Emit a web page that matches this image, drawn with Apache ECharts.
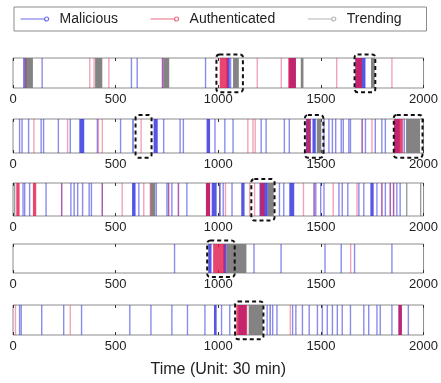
<!DOCTYPE html>
<html>
<head>
<meta charset="utf-8">
<script src="https://cdn.jsdelivr.net/npm/echarts@6/dist/echarts.min.js"></script>
<style>
  html, body { margin: 0; padding: 0; background: #fff; }
  #chart { width: 441px; height: 383px; }
</style>
</head>
<body>
<div id="chart"></div>
<script>
// event times (unit: 30 min); a number is a single event, a pair is a dense run
const malicious = [
  [52, [55, 58], 142, 577, 605, [725, 733], 938, [1040, 1056], 1060, [1345, 1378], [1668, 1700], [1700, 1717]],
  [32, 44, 76, 137, 149, 221, 279, [323, 347], 411, 524, [580, 589], [685, 705], 734, 814, 830, [943, 960], 984,
    1032, 1072, 1209, 1233, 1322, 1346, [1427, 1451], [1459, 1475], 1515, 1539, 1556, 1572, 1599, 1609, 1636, 1644,
    1701, 1717, 1765, 1797, 1814, [1857, 1884], [1902, 1910]],
  [49, 57, 81, 161, 237, 282, 298, 315, 339, 371, 382, 435, [580, 597], 613, 698, 750, 758, 774, 806, 847,
    [940, 960], [968, 992], 1008, 1024, 1067, [1112, 1128], [1201, 1241], 1298, 1319, [1346, 1370], 1467, 1475,
    1499, 1515, 1588, 1604, 1631, 1685, 1709, [1741, 1757], 1773, 1797, 1814, 1838, 1854, 1870, 1886],
  [787, [951, 967], [1025, 1040], 1174, 1306, 1520, 1599, 1664, 1846],
  [32, 40, 140, 247, 334, 569, 672, 774, 850, 935, [979, 992], 1016, 1056, [1098, 1136], 1238, [1249, 1257], 1265,
    1286, 1362, 1378, 1410, 1443, 1483, 1507, 1531, 1556, 1580, 1604, 1644, 1709, 1733, 1773, 1789, 1846,
    [1878, 1894], 1926]
]
const authenticated = [
  [[60, 66], 374, 395, 467, [725, 733], [1007, 1048], 1190, 1307, [1341, 1378], 1577, [1668, 1700], 1846],
  [102, 266, 416, 435, 624, 1144, 1169, 1180, [1430, 1448], 1701, 1749, [1857, 1899]],
  [[16, 32], [97, 113], 237, 435, 532, 637, 669, 758, 806, [940, 960], 1035, 1153, 1177, [1205, 1225], 1415, 1467,
    1560, 1676, 1797, 1838, 1854],
  [[975, 1032], 1645],
  [12, 279, [1088, 1141], 1351, [1878, 1894]]
]
const trending = [
  [[58, 97], [400, 435], [733, 761], [1072, 1100], [1402, 1415], [1744, 1762]],
  [[1480, 1502], [1915, 1983]],
  [8, [669, 693], 1007, [1241, 1270], 1918, 1986],
  [[1040, 1137]],
  [[1148, 1217]]
]
// highlighted windows (dashed boxes)
const highlights = [
  [[991, 1120], [1664, 1765]],
  [[597, 675], [1422, 1512], [1855, 1995]],
  [[1161, 1274]],
  [[946, 1080]],
  [[1082, 1220]]
]
const xTicks = { min: 0, max: 2000, interval: 500 }

const layout = [
  { top: 58, height: 30 },
  { top: 119, height: 34 },
  { top: 183, height: 33 },
  { top: 244, height: 29 },
  { top: 305, height: 30 }
]
const font = 'Liberation Sans, Arial, sans-serif'
const colors = { Malicious: '#2c2ce0', Authenticated: '#e0184c', Trending: '#7c7c7c' }
const legendIcon = 'path://M0,4 L24,4 M24,4 A2,2 0 1 1 28,4 A2,2 0 1 1 24,4'

const toSpan = (d) => (Array.isArray(d) ? d : [d, d])

const makeBars = (color, single, wide) => (params, api) => {
  const a = api.coord([api.value(0), 1])
  const b = api.coord([api.value(1), 0])
  const w = b[0] - a[0]
  const minW = 1.4
  const x = w < minW ? a[0] - (minW - w) / 2 : a[0]
  return {
    type: 'rect',
    shape: { x: x, y: a[1], width: Math.max(w, minW), height: b[1] - a[1] },
    style: { fill: color, opacity: w >= 2 ? wide : single }
  }
}

const renderBox = (params, api) => {
  const a = api.coord([api.value(0), 1.12])
  const b = api.coord([api.value(1), -0.14])
  return {
    type: 'rect',
    shape: { x: a[0], y: a[1], width: b[0] - a[0], height: b[1] - a[1], r: 3 },
    style: { fill: 'none', stroke: '#111', lineWidth: 2, lineDash: [4, 3] }
  }
}

const grids = []
const xAxes = []
const yAxes = []
const series = []
layout.forEach((g, i) => {
  grids.push({
    left: 13, right: 14, top: g.top, height: g.height,
    show: true, borderColor: '#8c8c8c', borderWidth: 1, backgroundColor: '#fff'
  })
  const base = {
    gridIndex: i, type: 'value', ...xTicks,
    axisLine: { show: false },
    axisTick: { inside: true, length: 3, lineStyle: { color: '#333' } },
    splitLine: { show: false }
  }
  xAxes.push({
    ...base, position: 'bottom',
    axisLabel: { fontSize: 13, color: '#222', margin: 5, fontFamily: font, formatter: (v) => String(v) },
    ...(i === layout.length - 1
      ? { name: 'Time (Unit: 30 min)', nameLocation: 'middle', nameGap: 27,
          nameTextStyle: { fontSize: 16, color: '#222', fontFamily: font } }
      : {})
  })
  xAxes.push({ ...base, position: 'top', axisLabel: { show: false } })
  yAxes.push({ gridIndex: i, type: 'value', min: 0, max: 1, show: false })

  const groups = [
    ['Trending', trending[i], 0.75, 0.95],
    ['Malicious', malicious[i], 0.55, 0.8],
    ['Authenticated', authenticated[i], 0.4, 0.8]
  ]
  groups.forEach(([name, list, single, wide], k) => {
    series.push({
      type: 'custom', name: name, xAxisIndex: i * 2, yAxisIndex: i,
      data: list.map(toSpan), encode: { x: [0, 1] },
      itemStyle: { color: colors[name] },
      renderItem: makeBars(colors[name], single, wide), z: 2 + k
    })
  })
  series.push({
    type: 'custom', name: 'window', xAxisIndex: i * 2, yAxisIndex: i,
    data: highlights[i], encode: { x: [0, 1] }, clip: false,
    renderItem: renderBox, z: 10
  })
})

const myChart = echarts.init(document.getElementById('chart'))
myChart.setOption({
  animation: false,
  legend: {
    left: 14, top: 7, itemGap: 32, itemWidth: 28, itemHeight: 4,
    padding: [5, 25, 5, 6],
    borderColor: '#8c8c8c', borderWidth: 1,
    textStyle: { fontSize: 14, color: '#222', fontFamily: font, padding: [0, 0, 0, 6] },
    data: [
      { name: 'Malicious', icon: legendIcon, itemStyle: { color: 'transparent', borderColor: '#6a6ae8', borderWidth: 1.2 } },
      { name: 'Authenticated', icon: legendIcon, itemStyle: { color: 'transparent', borderColor: '#ea6a82', borderWidth: 1.2 } },
      { name: 'Trending', icon: legendIcon, itemStyle: { color: 'transparent', borderColor: '#b4b4b4', borderWidth: 1.2 } }
    ]
  },
  grid: grids,
  xAxis: xAxes,
  yAxis: yAxes,
  series: series
})
</script>
</body>
</html>
